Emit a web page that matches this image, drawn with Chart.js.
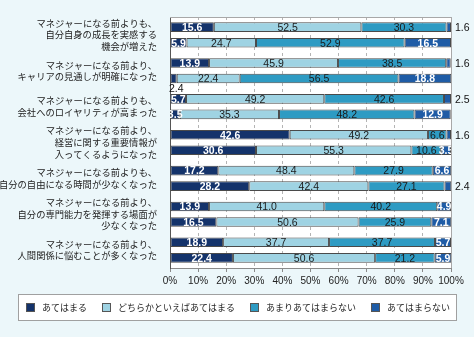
<!DOCTYPE html>
<html lang="ja">
<head>
<meta charset="utf-8">
<script src="https://cdn.jsdelivr.net/npm/chart.js@4.4.1/dist/chart.umd.min.js"></script>
<style>
  html, body { margin: 0; padding: 0; background: #ecf7fa; }
  #wrap { position: relative; width: 474px; height: 337px; }
</style>
</head>
<body>
<div id="wrap"><canvas id="chart" width="474" height="337"></canvas></div>
<script>
(() => {
  "use strict";

  const categories = [
    ["マネジャーになる前よりも、", "自分自身の成長を実感する", "機会が増えた"],
    ["マネジャーになる前より、", "キャリアの見通しが明確になった"],
    ["マネジャーになる前よりも、", "会社へのロイヤリティが高まった"],
    ["マネジャーになる前より、", "経営に関する重要情報が", "入ってくるようになった"],
    ["マネジャーになる前よりも、", "自分の自由になる時間が少なくなった"],
    ["マネジャーになる前より、", "自分の専門能力を発揮する場面が", "少なくなった"],
    ["マネジャーになる前より、", "人間関係に悩むことが多くなった"],
  ];
  const seriesNames = ["あてはまる", "どちらかといえばあてはまる", "あまりあてはまらない", "あてはまらない"];
  const xTicks = [0, 10, 20, 30, 40, 50, 60, 70, 80, 90, 100];

  // upper bar of each pair
  const upper1 = [15.6, 13.9, 5.7, 42.6, 17.2, 13.9, 18.9];
  const upper2 = [52.5, 45.9, 49.2, 49.2, 48.4, 41.0, 37.7];
  const upper3 = [30.3, 38.5, 42.6, 6.6, 27.9, 40.2, 37.7];
  const upper4 = [1.6, 1.6, 2.5, 1.6, 6.6, 4.9, 5.7];
  // lower bar of each pair
  const lower1 = [5.9, 2.4, 3.5, 30.6, 28.2, 16.5, 22.4];
  const lower2 = [24.7, 22.4, 35.3, 55.3, 42.4, 50.6, 50.6];
  const lower3 = [52.9, 56.5, 48.2, 10.6, 27.1, 25.9, 21.2];
  const lower4 = [16.5, 18.8, 12.9, 3.5, 2.4, 7.1, 5.9];

  const COLORS = ["#14336b", "#9fd3e3", "#2e9bc3", "#1f5ca6"];
  const WHITE_TEXT = [true, false, false, true];
  const FONT_JP = "'Noto Sans CJK JP', 'Noto Sans', sans-serif";
  const FONT_NUM = "'Liberation Sans', Arial, sans-serif";

  const mk = (data, i, stack) => ({
    label: seriesNames[i],
    data,
    stack,
    series: i,
    backgroundColor: COLORS[i],
    borderColor: "#4a4a4a",
    borderWidth: 1,
    borderSkipped: false,
    barPercentage: 0.62,
    categoryPercentage: 0.866,
  });

  const datasets = [
    mk(upper1, 0, "upper"), mk(upper2, 1, "upper"), mk(upper3, 2, "upper"), mk(upper4, 3, "upper"),
    mk(lower1, 0, "lower"), mk(lower2, 1, "lower"), mk(lower3, 2, "lower"), mk(lower4, 3, "lower"),
  ];

  // white plot area plus top/right frame
  const plotFrame = {
    id: "plotFrame",
    beforeDraw(chart) {
      const { ctx, chartArea: a } = chart;
      ctx.save();
      ctx.fillStyle = "#ffffff";
      ctx.fillRect(a.left, a.top, a.right - a.left, a.bottom - a.top);
      ctx.restore();
    },
    afterDraw(chart) {
      const { ctx, chartArea: a } = chart;
      ctx.save();
      ctx.strokeStyle = "#a8a8a8";
      ctx.lineWidth = 1;
      ctx.beginPath();
      ctx.moveTo(a.left, a.top + 0.5);
      ctx.lineTo(a.right + 0.5, a.top + 0.5);
      ctx.lineTo(a.right + 0.5, a.bottom);
      ctx.stroke();
      ctx.restore();
    },
  };

  // value labels on the segments
  const valueLabels = {
    id: "valueLabels",
    afterDatasetsDraw(chart) {
      const { ctx, chartArea: a } = chart;
      ctx.save();
      ctx.textBaseline = "middle";
      chart.data.datasets.forEach((ds, di) => {
        const meta = chart.getDatasetMeta(di);
        meta.data.forEach((bar, i) => {
          const v = ds.data[i];
          const txt = v.toFixed(1);
          const s = ds.series;
          if (v < 3 && s === 3) {
            ctx.fillStyle = "#111";
            ctx.font = "10.5px " + FONT_NUM;
            ctx.textAlign = "left";
            ctx.fillText(txt, a.right + 4, bar.y + 1);
            return;
          }
          if (v < 3 && s === 0) {
            ctx.fillStyle = "#111";
            ctx.font = "10.5px " + FONT_NUM;
            ctx.textAlign = "left";
            ctx.fillText(txt, a.left - 1, bar.y + 11);
            return;
          }
          ctx.save();
          ctx.beginPath();
          ctx.rect(a.left, a.top, a.right - a.left, a.bottom - a.top);
          ctx.clip();
          ctx.textAlign = "center";
          if (WHITE_TEXT[s]) {
            ctx.fillStyle = "#ffffff";
            ctx.font = "bold 10.5px " + FONT_NUM;
          } else {
            ctx.fillStyle = "#1a1a1a";
            ctx.font = "10.5px " + FONT_NUM;
          }
          ctx.fillText(txt, (bar.x + bar.base) / 2, bar.y + 1);
          ctx.restore();
        });
      });
      ctx.restore();
    },
  };

  // boxed legend along the bottom
  const legendBox = {
    id: "legendBox",
    afterDraw(chart) {
      const { ctx } = chart;
      ctx.save();
      ctx.fillStyle = "#ffffff";
      ctx.fillRect(18.5, 294.5, 438, 26);
      ctx.strokeStyle = "#a0a0a0";
      ctx.lineWidth = 1;
      ctx.strokeRect(18.5, 294.5, 438, 26);
      const xs = [26, 102, 250, 371];
      ctx.font = "9px " + FONT_JP;
      ctx.textBaseline = "middle";
      ctx.textAlign = "left";
      seriesNames.forEach((name, i) => {
        ctx.fillStyle = COLORS[i];
        ctx.fillRect(xs[i] + 0.5, 303.5, 8, 8);
        ctx.strokeStyle = "#555";
        ctx.strokeRect(xs[i] + 0.5, 303.5, 8, 8);
        ctx.fillStyle = "#222";
        ctx.fillText(name, xs[i] + 16, 308);
      });
      ctx.restore();
    },
  };

  new Chart(document.getElementById("chart"), {
    type: "bar",
    data: { labels: categories, datasets },
    options: {
      indexAxis: "y",
      responsive: false,
      animation: false,
      layout: { padding: { top: 17, right: 23, bottom: 49, left: 0 } },
      plugins: { legend: { display: false }, tooltip: { enabled: false } },
      scales: {
        x: {
          stacked: true,
          min: 0,
          max: 100,
          afterBuildTicks(scale) { scale.ticks = xTicks.map((v) => ({ value: v })); },
          afterFit(scale) { scale.height = 20; },
          ticks: {
            callback: (v) => v + "%",
            color: "#222",
            font: { family: FONT_NUM, size: 10 },
            padding: 3,
            maxRotation: 0,
            autoSkip: false,
          },
          grid: {
            color: "#b4b4b4",
            tickLength: 4,
            tickColor: "#8a8a8a",
            tickBorderDash: [],
          },
          border: { display: true, color: "#8a8a8a", dash: [3, 3] },
        },
        y: {
          stacked: true,
          afterFit(scale) { scale.width = 170; },
          ticks: {
            color: "#222",
            font: { family: FONT_JP, size: 9.3, lineHeight: 1.25 },
            padding: 5,
            autoSkip: false,
          },
          grid: { display: false },
          border: { display: true, color: "#555" },
        },
      },
    },
    plugins: [plotFrame, valueLabels, legendBox],
  });
})();
</script>
</body>
</html>
